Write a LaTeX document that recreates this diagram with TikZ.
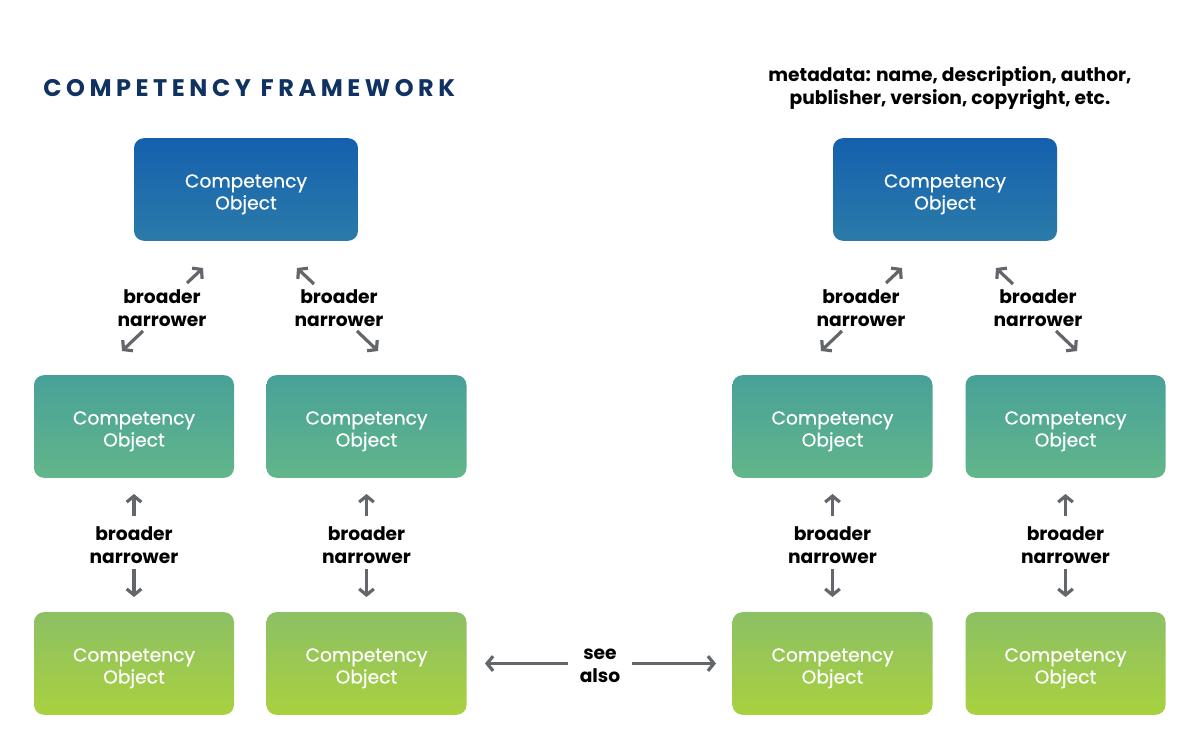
\documentclass[tikz,border=0pt]{standalone}
\usepackage{fontspec}
\setmainfont{Poppins}
\usetikzlibrary{arrows.meta}
\definecolor{titleblue}{HTML}{0F3260}
\definecolor{bluetop}{HTML}{1460AE}
\definecolor{bluebot}{HTML}{2B7BA9}
\definecolor{teeltop}{HTML}{48A198}
\definecolor{teelbot}{HTML}{62B68A}
\definecolor{greentop}{HTML}{8CC064}
\definecolor{greenbot}{HTML}{A9D13F}
\definecolor{arrgray}{HTML}{63666A}
\tikzset{
  obj/.style={rounded corners=7.5pt, minimum height=77pt, inner sep=0pt},
  objtext/.style={text=white, align=center, inner sep=0pt,
    font=\fontsize{14}{16.5}\selectfont\addfontfeatures{FakeBold=0.6}},
  topobj/.style={obj, minimum width=168pt, top color=bluetop, bottom color=bluebot},
  midobj/.style={obj, minimum width=150pt, top color=teeltop, bottom color=teelbot},
  botobj/.style={obj, minimum width=150pt, top color=greentop, bottom color=greenbot},
  lbl/.style={align=center, font=\bfseries\fontsize{14}{17.25}\selectfont, text=black, inner sep=0pt},
  arr/.style={draw=arrgray, line width=2.4pt, -{Straight Barb[length=4.5pt,width=11pt]}}
}
\newcommand\cobj[4]{%
  \node[#2] (#1) at (#3,#4) {};
  \node[objtext] (#1txt) at ([yshift=-3.6pt]#1.center) {Competency\\Object};
}
\begin{document}
\begin{tikzpicture}[x=0.75pt,y=-0.75pt]
\useasboundingbox (0,0) rectangle (1200,750);
% title
\node[anchor=west, text=titleblue, font=\bfseries\fontsize{18}{20}\selectfont\addfontfeatures{LetterSpace=19}, inner sep=0pt] (title) at (43,88) {COMPETENCY FRAMEWORK};
\node[lbl] (meta) at (950,88) {metadata: name, description, author,\\publisher, version, copyright, etc.};

% left framework
\cobj{lt}{topobj}{246}{189.5}
\cobj{lm1}{midobj}{134}{426.5}
\cobj{lm2}{midobj}{366.5}{426.5}
\cobj{lb1}{botobj}{134}{663.5}
\cobj{lb2}{botobj}{366.5}{663.5}

% right framework
\cobj{rt}{topobj}{945}{189.5}
\cobj{rm1}{midobj}{832.5}{426.5}
\cobj{rm2}{midobj}{1065.5}{426.5}
\cobj{rb1}{botobj}{832.5}{663.5}
\cobj{rb2}{botobj}{1065.5}{663.5}

% diagonal labels
\foreach \p/\cx in {l/0,r/699}{
  \node[lbl] (\p d1) at (162+\cx,308.5) {broader\\narrower};
  \node[lbl] (\p d2) at (339+\cx,308.5) {broader\\narrower};
  \coordinate (\p a1s) at (187+\cx,283); \coordinate (\p a1e) at (203+\cx,268);
  \coordinate (\p a2s) at (143+\cx,331); \coordinate (\p a2e) at (122+\cx,351);
  \coordinate (\p a3s) at (314+\cx,284); \coordinate (\p a3e) at (297+\cx,268);
  \coordinate (\p a4s) at (357+\cx,331); \coordinate (\p a4e) at (378+\cx,351);
  \draw[arr] (\p a1s) -- (\p a1e);
  \draw[arr] (\p a2s) -- (\p a2e);
  \draw[arr] (\p a3s) -- (\p a3e);
  \draw[arr] (\p a4s) -- (\p a4e);
}

% vertical labels
\foreach \n/\x in {v1/134, v2/366.5, v3/832.5, v4/1065.5}{
  \node[lbl] (\n) at (\x,545.5) {broader\\narrower};
  \coordinate (\n us) at (\x,516); \coordinate (\n ue) at (\x,494);
  \coordinate (\n ds) at (\x,569); \coordinate (\n de) at (\x,597);
  \draw[arr] (\n us) -- (\n ue);
  \draw[arr] (\n ds) -- (\n de);
}

% see also
\node[lbl] (see) at (600,666) {see\\also};
\coordinate (sl) at (568,663.5); \coordinate (sr) at (632,663.5);
\draw[arr] (sl) -- (lb2.east -| 485,0);
\draw[arr] (sr) -- (rb1.west -| 716,0);
\end{tikzpicture}
\end{document}
